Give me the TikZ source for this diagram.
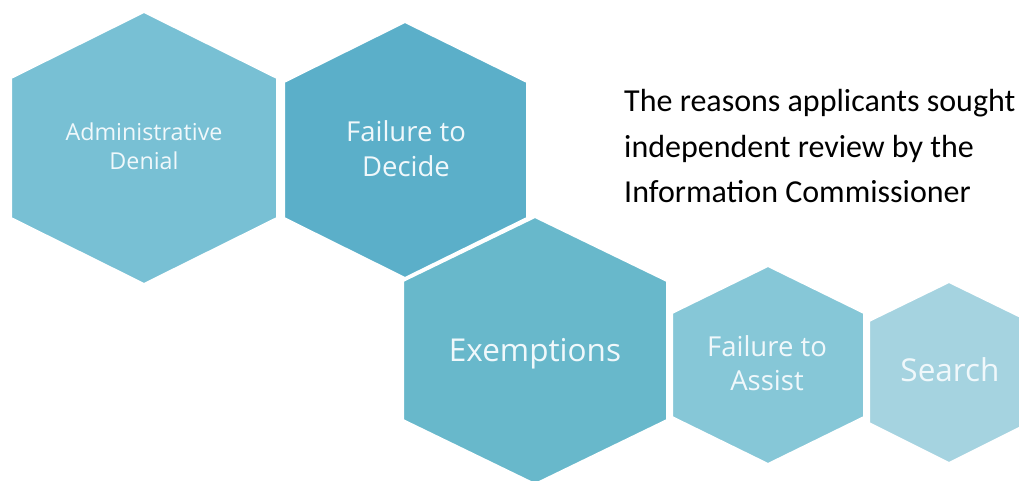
\documentclass[tikz,border=0pt]{standalone}
\usepackage{fontspec}
\setmainfont{Carlito}
\newfontfamily\hexfont{Open Sans}
\definecolor{hexA}{RGB}{120,192,212}
\definecolor{hexB}{RGB}{91,175,201}
\definecolor{hexC}{RGB}{104,184,203}
\definecolor{hexD}{RGB}{134,199,215}
\definecolor{hexE}{RGB}{165,211,224}
\definecolor{hexText}{RGB}{240,248,251}
\begin{document}
\begin{tikzpicture}[x=1pt,y=-1pt,
  hexcell/.style={draw=white,line width=2pt,line join=miter},
  hexlabel/.style={text=hexText,font=\hexfont,align=center,anchor=base,inner sep=0pt},
  caption/.style={font=\fontsize{32}{45}\selectfont,align=left,anchor=base west,inner sep=0pt}]
  \useasboundingbox (0,0) rectangle (1019,481);
  \begin{scope}
    \clip (0,0) rectangle (1019,481);
    % hexagonal cells
    \fill[hexA,hexcell] (144,12) -- (277,78) -- (277,218) -- (144,284) -- (11,218) -- (11,78) -- cycle;
    \fill[hexB,hexcell] (405,22) -- (527,82) -- (527,218) -- (405,278) -- (284,218) -- (284,82) -- cycle;
    \fill[hexC,hexcell] (535,217) -- (667,281) -- (667,420) -- (535,484) -- (403,420) -- (403,281) -- cycle;
    \fill[hexD,hexcell] (768,266) -- (864,313) -- (864,417) -- (768,464) -- (672,417) -- (672,313) -- cycle;
    \fill[hexE,hexcell] (949,282) -- (1029,321) -- (1029,423) -- (949,463) -- (869,423) -- (869,321) -- cycle;
  \end{scope}
  % cell labels (anchored at the baseline of their last line)
  \node[hexlabel,font=\hexfont\fontsize{23.3}{29}\selectfont] (admin) at (144,170) {Administrative\\Denial};
  \node[hexlabel,font=\hexfont\fontsize{27.5}{35}\selectfont] (decide) at (406,176) {Failure to\\Decide};
  \node[hexlabel,font=\hexfont\fontsize{31.5}{35}\selectfont] (exempt) at (535,361) {Exemptions};
  \node[hexlabel,font=\hexfont\fontsize{27.5}{34}\selectfont] (assist) at (767,390) {Failure to\\Assist};
  \node[hexlabel,font=\hexfont\fontsize{31.5}{35}\selectfont] (search) at (950,381) {Search};
  % caption
  \node[caption] (title) at (624,202) {The reasons applicants sought\\independent review by the\\Information Commissioner};
\end{tikzpicture}
\end{document}
